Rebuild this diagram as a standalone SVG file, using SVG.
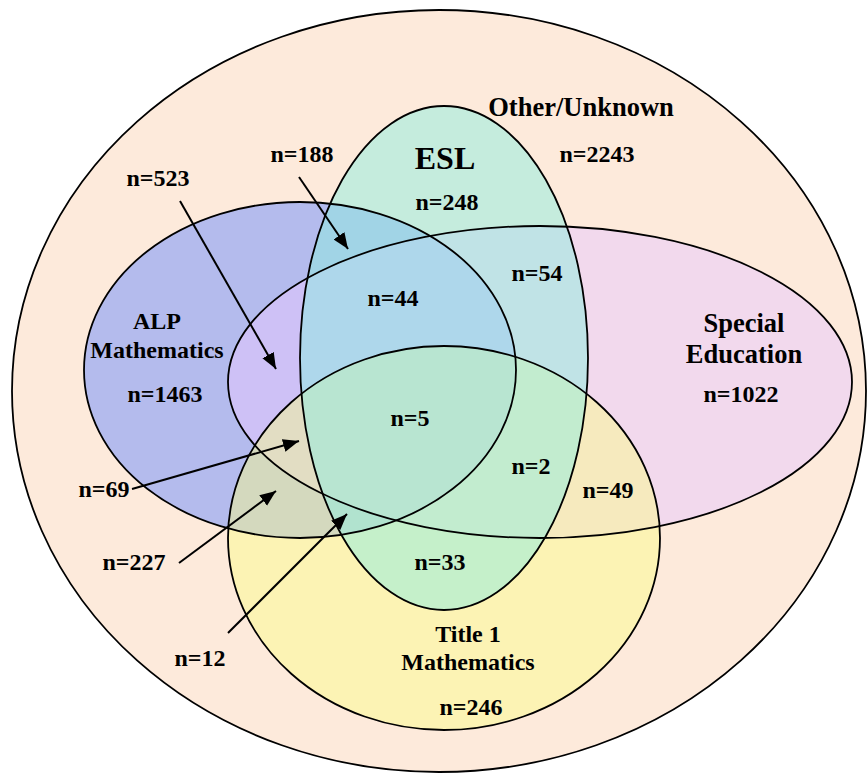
<svg xmlns="http://www.w3.org/2000/svg" width="867" height="774" viewBox="0 0 867 774">
<style>
text{font-family:"Liberation Serif","Times New Roman",serif;font-weight:bold;font-size:24px;fill:#000;text-anchor:middle}
.big{font-size:32px}
.wide{font-size:26.5px}
.ol{fill:none;stroke:#000;stroke-width:1.8}
.arr{stroke:#000;stroke-width:2;fill:none;marker-end:url(#ah)}
</style>
<defs>
<marker id="ah" markerUnits="userSpaceOnUse" markerWidth="18" markerHeight="14" refX="16" refY="6.5" orient="auto">
<path d="M0,0 L16,6.5 L0,13 z" fill="#000"/>
</marker>
</defs>
<rect width="867" height="774" fill="#fff"/>
<g id="other">
<ellipse cx="439" cy="391" rx="427" ry="381" fill="#fdeadb" stroke="#000" stroke-width="1.8"/>
<text class="wide" x="581" y="116">Other/Unknown</text>
<text x="597" y="162">n=2243</text>
</g>
<g id="fills">
<ellipse cx="300" cy="370" rx="216" ry="168" fill="#6b8cff" fill-opacity="0.5"/>
<ellipse cx="540" cy="382" rx="312" ry="156" fill="#e7c8ff" fill-opacity="0.5"/>
<ellipse cx="444" cy="538" rx="216" ry="192" fill="#fbff86" fill-opacity="0.45"/>
<ellipse cx="444" cy="358" rx="144" ry="252" fill="#8deee0" fill-opacity="0.5"/>
</g>
<g id="alp">
<ellipse class="ol" cx="300" cy="370" rx="216" ry="168"/>
<text x="157" y="329">ALP</text>
<text x="157" y="358">Mathematics</text>
<text x="165" y="402">n=1463</text>
</g>
<g id="sped">
<ellipse class="ol" cx="540" cy="382" rx="312" ry="156"/>
<text class="wide" x="744" y="332">Special</text>
<text class="wide" x="744" y="363">Education</text>
<text x="741" y="402">n=1022</text>
</g>
<g id="title1">
<ellipse class="ol" cx="444" cy="538" rx="216" ry="192"/>
<text x="468" y="642">Title 1</text>
<text x="468" y="670">Mathematics</text>
<text x="471" y="715">n=246</text>
</g>
<g id="esl">
<ellipse class="ol" cx="444" cy="358" rx="144" ry="252"/>
<text class="big" x="445" y="169">ESL</text>
<text x="447" y="210">n=248</text>
</g>
<g id="regions">
<text x="537" y="281">n=54</text>
<text x="393" y="306">n=44</text>
<text x="410" y="426">n=5</text>
<text x="531" y="474">n=2</text>
<text x="608" y="498">n=49</text>
<text x="440" y="570">n=33</text>
<text x="302" y="162">n=188</text>
<text x="158" y="186">n=523</text>
<text x="104" y="497">n=69</text>
<text x="134" y="570">n=227</text>
<text x="200" y="666">n=12</text>
</g>
<g id="connectors">
<line class="arr" x1="180" y1="201" x2="276" y2="369"/>
<line class="arr" x1="299" y1="177" x2="348" y2="249"/>
<line class="arr" x1="132" y1="489" x2="299" y2="441"/>
<line class="arr" x1="179" y1="563" x2="276" y2="491"/>
<line class="arr" x1="228" y1="633" x2="347" y2="514"/>
</g>
</svg>
